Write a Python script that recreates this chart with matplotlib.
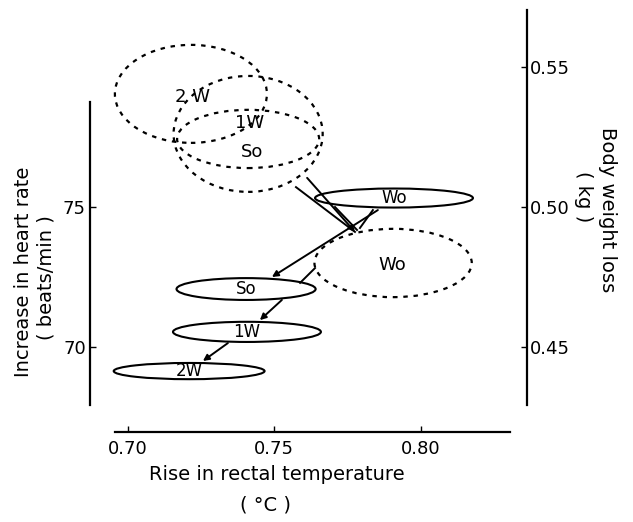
import matplotlib
matplotlib.use('Agg')
import matplotlib.pyplot as plt
from matplotlib.patches import Ellipse

groups = ['Wo', 'So', '1W', '2W']

# solid ellipses: rise in rectal temperature vs increase in heart rate (mean, half spread)
hr_temp = [0.7908, 0.7404, 0.7407, 0.7210]
hr_temp_half = [0.0269, 0.0237, 0.0252, 0.0257]
hr_mean = [75.32, 72.07, 70.54, 69.14]
hr_half = [0.34, 0.39, 0.36, 0.29]
hr_labels = ['Wo', 'So', '1W', '2W']

# dashed ellipses: rise in rectal temperature vs body weight loss
wt_temp = [0.7905, 0.7411, 0.7411, 0.7216]
wt_temp_half = [0.0268, 0.0242, 0.0254, 0.0259]
wt_mean = [0.4800, 0.5243, 0.5261, 0.5404]
wt_half = [0.0122, 0.0104, 0.0207, 0.0175]
wt_labels = ['Wo', 'So', '1W', '2 W']
wt_label_temp = [0.7902, 0.7424, 0.7417, 0.7223]
wt_label_y = [0.4793, 0.5196, 0.5300, 0.5393]

# connecting lines (temperature, heart rate): x0, y0, x1, y1, arrow
links = [
    (0.7612, 76.04, 0.7775, 74.11, True),
    (0.7574, 75.71, 0.7775, 74.11, False),
    (0.7707, 75.00, 0.7782, 74.18, False),
    (0.7853, 74.89, 0.7492, 72.50, True),
    (0.7836, 74.89, 0.7792, 74.25, False),
    (0.7639, 72.82, 0.7588, 72.29, False),
    (0.7526, 71.68, 0.7451, 70.96, True),
    (0.7342, 70.14, 0.7257, 69.50, True),
]

x_ticks = [0.70, 0.75, 0.80]
hr_ticks = [70, 75]
wt_ticks = [0.45, 0.50, 0.55]

plt.rcParams['font.family'] = ['DejaVu Sans']
fig = plt.figure(figsize=(6.33, 5.22), dpi=100)
ax = fig.add_axes([90 / 633, 90 / 522, 437 / 633, 424 / 522])
ax.patch.set_alpha(0)
ax2 = ax.twinx()

ax.set_xlim(0.68722, 0.83612)
ax.set_ylim(66.964, 82.107)
ax2.set_ylim(0.41964, 0.57107)

for a in (ax, ax2):
    a.spines['top'].set_visible(False)
ax.spines['right'].set_visible(False)
ax2.spines['left'].set_visible(False)
ax2.spines['bottom'].set_visible(False)
ax.spines['bottom'].set_bounds(0.6957, 0.8303)
ax.spines['left'].set_bounds(67.93, 78.75)
ax2.spines['right'].set_bounds(0.4293, 0.5704)
for sp in (ax.spines['bottom'], ax.spines['left'], ax2.spines['right']):
    sp.set_linewidth(1.6)

ax.set_xticks(x_ticks)
ax.set_xticklabels(['%.2f' % v for v in x_ticks])
ax.set_yticks(hr_ticks)
ax.set_yticklabels([str(v) for v in hr_ticks])
ax2.set_yticks(wt_ticks)
ax2.set_yticklabels(['%.2f' % v for v in wt_ticks])
ax.tick_params(axis='both', direction='in', length=4, width=1, labelsize=13, pad=3)
ax.tick_params(axis='x', pad=6)
ax2.tick_params(axis='y', direction='in', length=4, width=1, labelsize=13, pad=2)

for x, w, y, h, lab in zip(hr_temp, hr_temp_half, hr_mean, hr_half, hr_labels):
    ax.add_patch(Ellipse((x, y), 2 * w, 2 * h, fill=False, ec='black', lw=1.5))
    ax.text(x, y, lab, ha='center', va='center', fontsize=12)

for x, w, y, h in zip(wt_temp, wt_temp_half, wt_mean, wt_half):
    ax2.add_patch(Ellipse((x, y), 2 * w, 2 * h, fill=False, ec='black', lw=1.6,
                          ls=(0, (2, 2.6))))
for x, y, lab in zip(wt_label_temp, wt_label_y, wt_labels):
    ax2.text(x, y, lab, ha='center', va='center', fontsize=13)

for x0, y0, x1, y1, arrow in links:
    if arrow:
        ax.annotate('', xy=(x1, y1), xytext=(x0, y0),
                    arrowprops=dict(arrowstyle='-|>', color='black', lw=1.4,
                                    mutation_scale=9, shrinkA=0, shrinkB=0))
    else:
        ax.plot([x0, x1], [y0, y1], color='black', lw=1.4)

fig.text(24 / 633, 1 - 272 / 522, 'Increase in heart rate', rotation=90,
         ha='center', va='center', fontsize=14)
fig.text(46 / 633, 1 - 278 / 522, '( beats/min )', rotation=90,
         ha='center', va='center', fontsize=14)
fig.text(608 / 633, 1 - 210 / 522, 'Body weight loss', rotation=-90,
         ha='center', va='center', fontsize=14)
fig.text(583 / 633, 1 - 197 / 522, '( kg )', rotation=-90,
         ha='center', va='center', fontsize=14)
fig.text(277 / 633, 1 - 475 / 522, 'Rise in rectal temperature',
         ha='center', va='center', fontsize=14)
fig.text(265 / 633, 1 - 505 / 522, '( °C )',
         ha='center', va='center', fontsize=14)

fig.savefig('out.png', dpi=100)
